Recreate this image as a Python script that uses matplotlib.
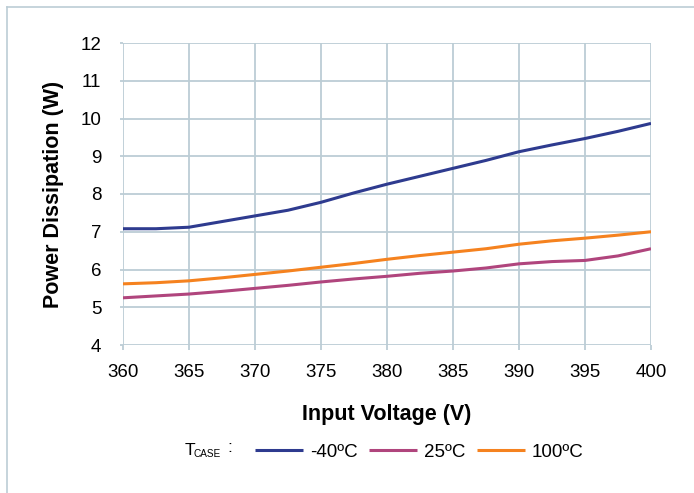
import matplotlib
matplotlib.use("Agg")
import matplotlib.pyplot as plt
from matplotlib.lines import Line2D

plt.rcParams['font.family'] = ['Liberation Sans', 'DejaVu Sans']

# Input voltage (V)
voltage = [360, 362.5, 365, 367.5, 370, 372.5, 375, 377.5, 380, 382.5, 385,
           387.5, 390, 392.5, 395, 397.5, 400]

# Power dissipation (W) per case temperature
p_m40 = [7.08, 7.08, 7.12, 7.27, 7.42, 7.57, 7.78, 8.03, 8.26, 8.47, 8.68,
         8.89, 9.12, 9.30, 9.47, 9.66, 9.87]
p_25 = [5.25, 5.30, 5.35, 5.42, 5.50, 5.58, 5.67, 5.75, 5.82, 5.90, 5.96,
        6.04, 6.15, 6.21, 6.24, 6.36, 6.55]
p_100 = [5.62, 5.65, 5.70, 5.78, 5.87, 5.96, 6.06, 6.16, 6.27, 6.37, 6.46,
         6.55, 6.67, 6.76, 6.83, 6.91, 7.00]

labels = ['-40ºC', '25ºC', '100ºC']
colors = ['#2e3b8f', '#b0457d', '#f5821f']
grid_col = '#bccdd5'

fig = plt.figure(figsize=(6.94, 4.93), dpi=100)
ax = fig.add_axes([123/694, 1 - 345/493, 528/694, 302/493])

lines = []
for ys, lab, c in zip([p_m40, p_25, p_100], labels, colors):
    ln, = ax.plot(voltage, ys, color=c, lw=2.2, label=lab, solid_capstyle='butt')
    lines.append(ln)

ax.set_xlim(360, 400)
ax.set_ylim(4, 12)
ax.set_xticks(range(360, 401, 5))
ax.set_yticks(range(4, 13))
ax.grid(True, color=grid_col, lw=1.3)
ax.set_axisbelow(True)
for s in ax.spines.values():
    s.set_visible(False)
ax.tick_params(axis='both', colors=grid_col, width=1.3, labelsize=13.5,
               labelcolor='black')
ax.tick_params(axis='x', length=3.5, pad=10.5)
ax.tick_params(axis='y', length=2.5, pad=13)

ax.set_xlabel('Input Voltage (V)', fontsize=15.5, fontweight='bold', labelpad=16)
ax.set_ylabel('Power Dissipation (W)', fontsize=15.5, fontweight='bold', labelpad=12)

# legend row
fig.legend(handles=lines, loc='center left', bbox_to_anchor=(247/694, 1 - 452/493),
           ncol=3, frameon=False, fontsize=13.5, handlelength=2.6,
           handletextpad=0.35, columnspacing=0.6, borderaxespad=0)
fig.text(185/694, 1 - 455/493, 'T', fontsize=12.5, va='baseline', ha='left')
fig.text(194/694, 1 - 457/493, 'CASE', fontsize=7.2, va='baseline', ha='left')
fig.text(227/694, 1 - 452/493, ':', fontsize=12.5, va='baseline', ha='left')

# outer frame (top and left edges)
fig.add_artist(Line2D([7/694, 1], [1 - 7/493, 1 - 7/493], color=grid_col, lw=1.2,
                      transform=fig.transFigure))
fig.add_artist(Line2D([7/694, 7/694], [0, 1 - 7/493], color=grid_col, lw=1.2,
                      transform=fig.transFigure))

fig.savefig('out.png', dpi=100)
